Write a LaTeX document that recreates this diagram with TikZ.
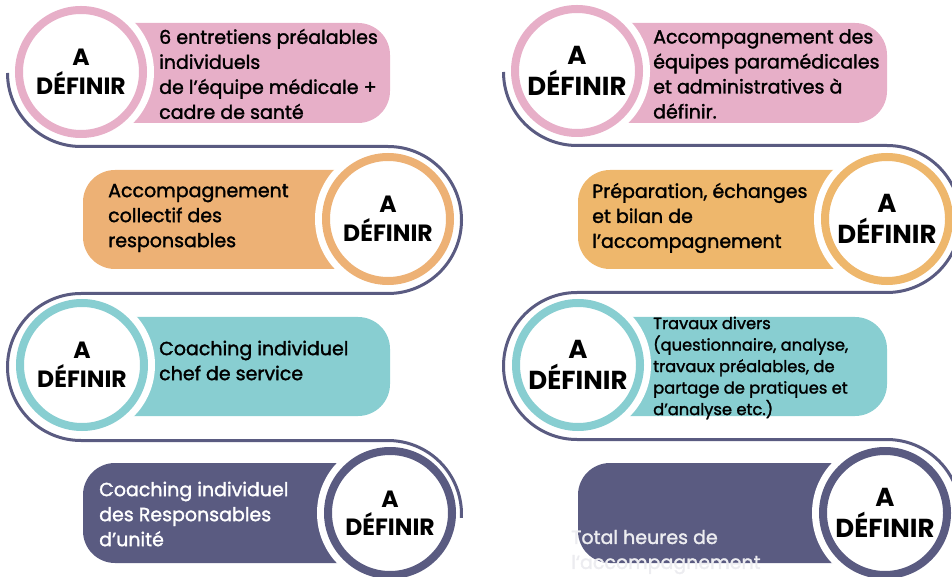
\documentclass[tikz,border=0pt]{standalone}
\usepackage{fontspec}
\usepackage{xcolor}
\setmainfont{Poppins}
\newfontfamily\mifort{Poppins}[FakeBold=1.6]
\usetikzlibrary{positioning}

\definecolor{rose}{HTML}{E7AFC8}
\definecolor{abricot}{HTML}{EDB175}
\definecolor{turquoise}{HTML}{88CED1}
\definecolor{ardoise}{HTML}{5A5B81}
\definecolor{pale}{HTML}{ECECF0}

\tikzset{
  definir/.style={circle, minimum size=124pt, inner sep=0pt, fill=white,
    draw=#1, line width=8pt, preaction={draw=white, line width=22pt},
    align=center, text=black, font=\fontsize{23.5}{28.5}\selectfont\bfseries},
  definirbig/.style={definir=#1, font=\fontsize{26}{31}\selectfont\bfseries},
  pill/.style={fill=#1, rounded corners=32pt},
  texte/.style={anchor=west, align=left, inner sep=0pt,
    font=\fontsize{19}{25}\selectfont\mifort},
  petit/.style={texte, font=\fontsize{16.3}{21.5}\selectfont\mifort},
  piste/.style={draw=ardoise, line width=3pt}
}

\begin{document}
\begin{tikzpicture}[x=1pt, y=1pt]
\useasboundingbox[clip] (0,0) rectangle (952,576);

% colonne de gauche
\fill[pill=rose] (81,453) rectangle (390,553);
\fill[pill=abricot] (83,307) rectangle (388,406);
\fill[pill=turquoise] (82,160) rectangle (390,259);
\fill[pill=ardoise] (83,13) rectangle (390,113);

\node[definir=rose] (defA) at (81,504) {A\\DÉFINIR};
\node[definir=abricot] (defB) at (388,357) {A\\DÉFINIR};
\node[definir=turquoise] (defC) at (82,211) {A\\DÉFINIR};
\node[definir=ardoise] (defD) at (390,63) {A\\DÉFINIR};

\node[texte] (txtA) at (159,502) {6 entretiens préalables\\individuels\\de l’équipe médicale +\\cadre de santé};
\node[texte] (txtB) at (108,358) {Accompagnement\\collectif des\\responsables};
\node[texte] (txtC) at (159,215.5) {Coaching individuel\\chef de service};
\node[texte, text=white] (txtD) at (99,62) {Coaching individuel\\des Responsables\\d’unité};

\draw[piste] (defA.center) ++(-73.5,-1) arc[start angle=180, end angle=270, radius=73.5]
  -- ++(307,0) arc[start angle=90, end angle=-90, radius=73.5]
  -- ++(-307,0) arc[start angle=90, end angle=270, radius=73.5]
  -- ++(307,0) arc[start angle=90, end angle=-3, radius=73.5];

% colonne de droite
\fill[pill=rose] (577,453) rectangle (887,553);
\fill[pill=abricot!92!yellow] (578,307) rectangle (887,406);
\fill[pill=turquoise] (578,160) rectangle (887,259);
\fill[pill=ardoise] (578,13) rectangle (885,113);

\node[definirbig=rose] (defE) at (577,505) {A\\DÉFINIR};
\node[definirbig=abricot!92!yellow] (defF) at (887,357) {A\\DÉFINIR};
\node[definirbig=turquoise] (defG) at (578,211) {A\\DÉFINIR};
\node[definirbig=ardoise] (defH) at (885,63) {A\\DÉFINIR};

\node[texte] (txtE) at (653,502) {Accompagnement des\\équipes paramédicales\\et administratives à\\définir.};
\node[texte] (txtF) at (592,358) {Préparation, échanges\\et bilan de\\l’accompagnement};
\node[petit] (txtG) at (653,208) {Travaux divers\\(questionnaire, analyse,\\travaux préalables, de\\partage de pratiques et\\d’analyse etc.)};
\node[texte, text=pale] (txtH) at (571,24) {Total heures de\\l‘accompagnement};

\draw[piste] (defE.center) ++(-73.5,-1) arc[start angle=180, end angle=270, radius=73.5]
  -- ++(310,0) arc[start angle=90, end angle=-90, radius=73.5]
  -- ++(-310,0) arc[start angle=90, end angle=270, radius=73.5]
  -- ++(310,0) arc[start angle=90, end angle=-3, radius=73.5];
\end{tikzpicture}
\end{document}
